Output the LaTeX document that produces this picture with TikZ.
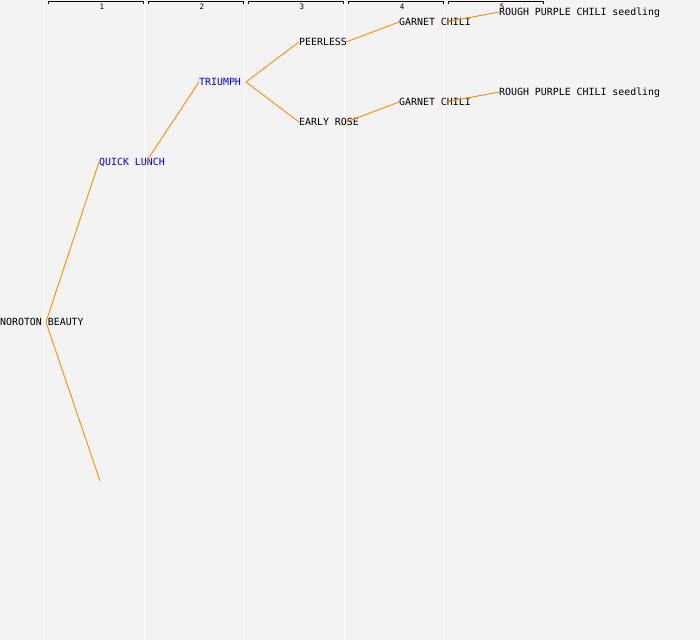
\documentclass[tikz,border=0pt]{standalone}
\usepackage{fontspec}
\setmonofont{DejaVu Sans Mono}
\definecolor{bg}{HTML}{F3F3F3}
\definecolor{edgeor}{HTML}{FF8C00}
\definecolor{selblue}{HTML}{0000FF}
\begin{document}
\begin{tikzpicture}[x=1pt,y=-1pt,
  treenode/.style={anchor=west,inner sep=0pt,font=\ttfamily\fontsize{9.9}{10}\selectfont,text height=7pt,text depth=0pt},
  selnode/.style={treenode,text=selblue},
  link/.style={draw=edgeor,line width=0.9pt},
  colsep/.style={draw=white,line width=1.2pt},
  bracket/.style={draw=black,line width=0.9pt},
  collabel/.style={inner sep=0pt,font=\ttfamily\fontsize{7.5}{7.5}\selectfont}]
\fill[bg] (0,0) rectangle (700,640);
\useasboundingbox (0,0) rectangle (700,640);
% column separators
\foreach \i in {0,...,4}{
  \draw[colsep] (44.5+100*\i,0) -- (44.5+100*\i,640);
}
% column headers
\foreach \i in {1,...,5}{
  \draw[bracket] (48+100*\i-100,4) -- (48+100*\i-100,1.5) -- (143+100*\i-100,1.5) -- (143+100*\i-100,4);
  \node[collabel] (col\i) at (102+100*\i-100,6.5) {\i};
}
% nodes
\node[treenode] (nb) at (0,322) {NOROTON BEAUTY};
\node[selnode] (ql) at (99,162) {QUICK LUNCH};
\node[selnode] (tr) at (199,82) {TRIUMPH};
\node[treenode] (pe) at (299,42) {PEERLESS};
\node[treenode] (er) at (299,122) {EARLY ROSE};
\node[treenode] (gc1) at (399,22) {GARNET CHILI};
\node[treenode] (gc2) at (399,102) {GARNET CHILI};
\node[treenode] (rp1) at (499,12) {ROUGH PURPLE CHILI seedling};
\node[treenode] (rp2) at (499,92) {ROUGH PURPLE CHILI seedling};
% outgoing points
\coordinate (nbo) at (46,322);
\coordinate (qlo) at (146,162);
\coordinate (tro) at (246,82);
\coordinate (peo) at (346,42);
\coordinate (ero) at (346,122);
\coordinate (gc1o) at (446,22);
\coordinate (gc2o) at (446,102);
\coordinate (empty) at (100,481);
% connectors
\draw[link] (nbo) -- (ql.west);
\draw[link] (nbo) -- (empty);
\draw[link] (qlo) -- (tr.west);
\draw[link] (tro) -- (pe.west);
\draw[link] (tro) -- (er.west);
\draw[link] (peo) -- (gc1.west);
\draw[link] (ero) -- (gc2.west);
\draw[link] (gc1o) -- (rp1.west);
\draw[link] (gc2o) -- (rp2.west);
\end{tikzpicture}
\end{document}
